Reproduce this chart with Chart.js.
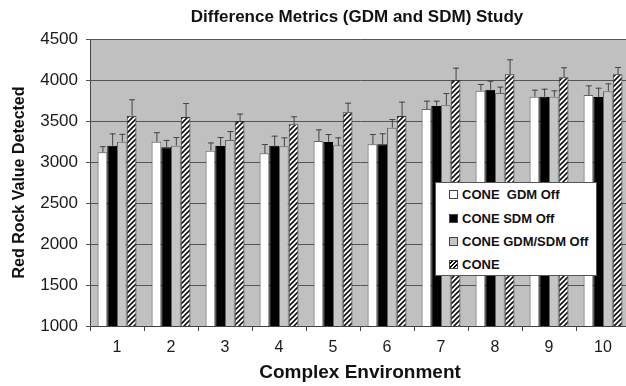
<!DOCTYPE html>
<html>
<head>
<meta charset="utf-8">
<script src="https://cdn.jsdelivr.net/npm/chart.js@4"></script>
<style>
	body { margin: 0; overflow: hidden; background: #fff; font-family: "Liberation Sans", Arial, sans-serif; }
	#wrap { position: relative; width: 640px; height: 386px; }
	#legend { position: absolute; left: 435px; top: 182px; width: 160px; height: 92px; border: 1px solid #555; background: #fff; }
	#legend div { position: absolute; left: 13px; font-weight: bold; font-size: 13px; color: #111; line-height: 16px; }
	#legend span { display: inline-block; width: 7px; height: 7px; border: 1px solid #444; margin-right: 4px; vertical-align: 0px; }
</style>
</head>
<body>
<div id="wrap">
	<canvas id="cbar" width="640" height="386"></canvas>
	<div id="legend">
		<div style="top:4px"><span style="background:#fff"></span>CONE&nbsp; GDM Off</div>
		<div style="top:28px"><span style="background:#000"></span>CONE SDM Off</div>
		<div style="top:51px"><span style="background:#c4c4c4"></span>CONE GDM/SDM Off</div>
		<div style="top:74px"><span style="background:repeating-linear-gradient(-45deg,#fff 0 1.5px,#000 1.5px 3px)"></span>CONE</div>
	</div>
</div>
<script>
	var environments	=	["1","2","3","4","5","6","7","8","9","10"];
	var gdmOff	=	[3118, 3248, 3138, 3106, 3256, 3215, 3646, 3870, 3797, 3817];
	var sdmOff	=	[3199, 3179, 3195, 3199, 3244, 3215, 3683, 3882, 3797, 3793];
	var bothOff	=	[3248, 3199, 3268, 3191, 3203, 3419, 3691, 3841, 3797, 3862];
	var cone	=	[3565, 3549, 3500, 3459, 3606, 3561, 4000, 4069, 4033, 4069];
	var gdmOffErr	=	[75, 115, 100, 113, 142, 126, 102, 81, 85, 118];
	var sdmOffErr	=	[150, 90, 110, 122, 97, 135, 65, 110, 97, 113];
	var bothOffErr	=	[95, 105, 110, 110, 98, 105, 150, 78, 77, 97];
	var coneErr	=	[200, 170, 90, 98, 117, 175, 150, 183, 122, 90];

	function hatchPattern(){
		var c = document.createElement("canvas");
		c.width = 5; c.height = 5;
		var g = c.getContext("2d");
		g.fillStyle = "#fff";
		g.fillRect(0, 0, 5, 5);
		g.strokeStyle = "#111";
		g.lineWidth = 1.6;
		g.beginPath();
		g.moveTo(-1, 6); g.lineTo(6, -1);
		g.moveTo(-1, 1); g.lineTo(1, -1);
		g.moveTo(4, 6); g.lineTo(6, 4);
		g.stroke();
		return g.createPattern(c, "repeat");
	}

	// upward error bars, drawn from the bar tops via the y scale
	var errorBars = {
		id: "errorBars",
		afterDatasetsDraw: function(chart){
			var ctx = chart.ctx;
			var yScale = chart.scales.y;
			ctx.save();
			ctx.strokeStyle = "#444";
			ctx.lineWidth = 1;
			chart.data.datasets.forEach(function(ds, i){
				var meta = chart.getDatasetMeta(i);
				meta.data.forEach(function(bar, j){
					var top = yScale.getPixelForValue(ds.data[j] + ds.errors[j]);
					ctx.beginPath();
					ctx.moveTo(bar.x + 0.5, bar.y);
					ctx.lineTo(bar.x + 0.5, top);
					ctx.moveTo(bar.x - 2.5, top + 0.5);
					ctx.lineTo(bar.x + 3.5, top + 0.5);
					ctx.stroke();
				});
			});
			ctx.restore();
		}
	};

	// title centred over the plot area
	var plotTitle = {
		id: "plotTitle",
		afterDraw: function(chart){
			var ctx = chart.ctx;
			var a = chart.chartArea;
			ctx.save();
			ctx.font = "bold 17px 'Liberation Sans', Arial";
			ctx.fillStyle = "#111";
			ctx.textAlign = "center";
			ctx.textBaseline = "middle";
			ctx.fillText("Difference Metrics (GDM and SDM) Study", (a.left + a.right) / 2 - 3, 17);
			ctx.restore();
		}
	};

	var plotBg = {
		id: "plotBg",
		beforeDraw: function(chart){
			var a = chart.chartArea;
			chart.ctx.save();
			chart.ctx.fillStyle = "#c0c0c0";
			chart.ctx.fillRect(a.left, a.top, a.right - a.left, a.bottom - a.top);
			chart.ctx.restore();
		}
	};

	function repaymentBarChartFunc(){
		var bdata = {
			labels: environments,
			datasets: [
				{ label: "CONE  GDM Off", data: gdmOff, errors: gdmOffErr, backgroundColor: "#fff", borderColor: "#666" },
				{ label: "CONE SDM Off", data: sdmOff, errors: sdmOffErr, backgroundColor: "#000", borderColor: "#000" },
				{ label: "CONE GDM/SDM Off", data: bothOff, errors: bothOffErr, backgroundColor: "#c6c6c6", borderColor: "#666" },
				{ label: "CONE", data: cone, errors: coneErr, backgroundColor: hatchPattern(), borderColor: "#333" }
			]
		};
		bdata.datasets.forEach(function(ds){
			ds.borderWidth = 1;
			ds.categoryPercentage = 0.72;
			ds.barPercentage = 1.0;
		});

		var options = {
			responsive: false,
			animation: false,
			layout: { padding: { top: 39, right: 10, left: 0, bottom: 0 } },
			plugins: { legend: { display: false }, tooltip: { enabled: false } },
			scales: {
				x: {
					grid: { offset: true, drawOnChartArea: false, tickLength: 5, color: "#444" },
					border: { color: "#444" },
					ticks: { padding: 7, color: "#1a1a1a", font: { family: "'Liberation Sans', Arial", size: 16 } },
					title: { display: true, text: "Complex Environment", color: "#111", padding: { top: 4, bottom: 2 },
						font: { family: "'Liberation Sans', Arial", size: 19, weight: "bold" } },
					afterFit: function(scale){ scale.height = 60; }
				},
				y: {
					min: 1000, max: 4500,
					grid: { color: "#555", tickLength: 4 },
					border: { color: "#444" },
					ticks: { stepSize: 500, padding: 8, color: "#1a1a1a", font: { family: "'Liberation Sans', Arial", size: 17 },
						callback: function(v){ return String(v); } },
					title: { display: true, text: "Red Rock Value Detected", color: "#111", padding: { top: 10, bottom: 0 },
						font: { family: "'Liberation Sans', Arial", size: 16, weight: "bold" } },
					afterFit: function(scale){ scale.width = 90; }
				}
			}
		};

		var cbar = document.getElementById("cbar").getContext("2d");
		new Chart(cbar, { type: "bar", data: bdata, options: options, plugins: [plotBg, errorBars, plotTitle] });
	}

	repaymentBarChartFunc();
</script>
</body>
</html>
